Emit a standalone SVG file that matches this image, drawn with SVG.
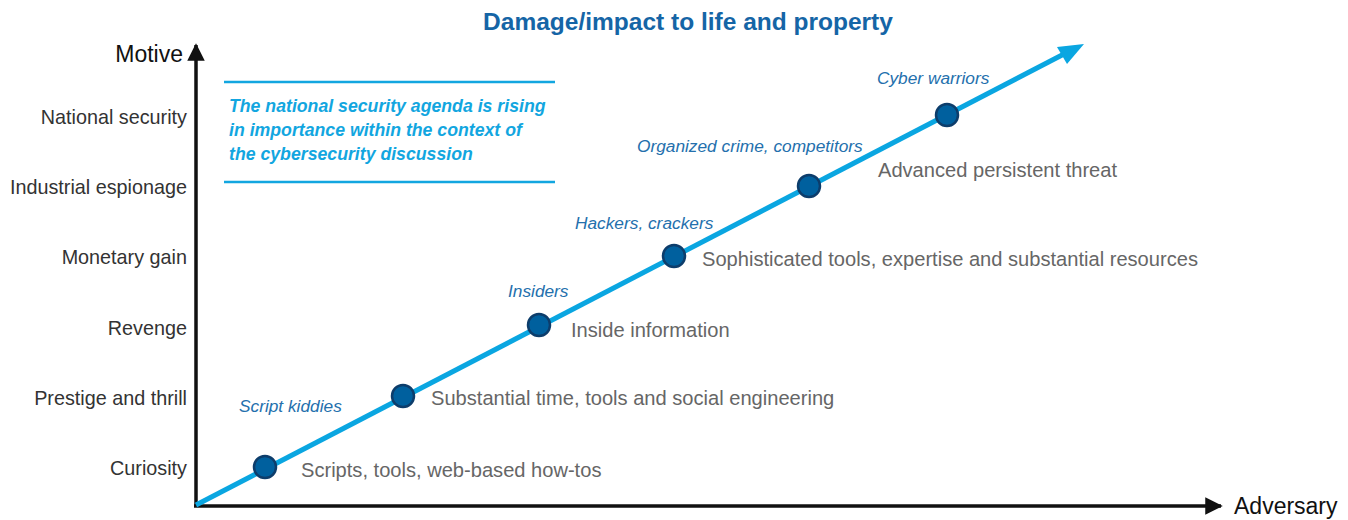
<svg xmlns="http://www.w3.org/2000/svg" width="1348" height="520" viewBox="0 0 1348 520">
<defs>
<style>
text{font-family:"Liberation Sans",Arial,sans-serif}
.title{font-size:24.5px;font-weight:bold;fill:#1565a6}
.axis{font-size:23px;fill:#111}
.ylab{font-size:19.8px;fill:#333;text-anchor:end}
.note{font-size:17.7px;font-weight:bold;font-style:italic;fill:#12a6e0}
.who{font-size:17.3px;font-style:italic;fill:#2470ad}
.what{font-size:20.1px;fill:#666}
.dot{fill:#00609e;stroke:#0d3d6b;stroke-width:2.5}
.rule{stroke:#12a6e0;stroke-width:2.5}
</style>
<marker id="blk" viewBox="0 0 10 10" refX="9" refY="5" markerWidth="5" markerHeight="5" orient="auto" markerUnits="strokeWidth"><path d="M0,0L10,5L0,10z" fill="#111"/></marker>
</defs>
<rect width="1348" height="520" fill="#fff"/>
<text class="title" x="688" y="30" text-anchor="middle">Damage/impact to life and property</text>
<g id="axes">
<line x1="196" y1="506" x2="196" y2="45" stroke="#111" stroke-width="3.5" marker-end="url(#blk)"/>
<line x1="194" y1="506" x2="1221" y2="506" stroke="#111" stroke-width="3.5" marker-end="url(#blk)"/>
<text class="axis" x="183" y="62" text-anchor="end">Motive</text>
<text class="axis" x="1234" y="514">Adversary</text>
</g>
<g id="motives">
<text class="ylab" x="187" y="124">National security</text>
<text class="ylab" x="187" y="194">Industrial espionage</text>
<text class="ylab" x="187" y="264">Monetary gain</text>
<text class="ylab" x="187" y="335">Revenge</text>
<text class="ylab" x="187" y="405">Prestige and thrill</text>
<text class="ylab" x="187" y="475">Curiosity</text>
</g>
<g id="note">
<line class="rule" x1="224" y1="82" x2="555" y2="82"/>
<line class="rule" x1="224" y1="182" x2="555" y2="182"/>
<text class="note" x="229" y="112">The national security agenda is rising</text>
<text class="note" x="229" y="136">in importance within the context of</text>
<text class="note" x="229" y="160">the cybersecurity discussion</text>
</g>
<g id="connectors">
<line x1="196" y1="505" x2="1064" y2="54" stroke="#0aa6e1" stroke-width="5"/>
<path d="M1084,44L1057,47L1067,64z" fill="#0aa6e1"/>
</g>
<g id="n1"><circle class="dot" cx="265" cy="467" r="11"/><text class="who" x="239" y="412">Script kiddies</text><text class="what" x="301" y="477">Scripts, tools, web-based how-tos</text></g>
<g id="n2"><circle class="dot" cx="403" cy="396" r="11"/><text class="what" x="431" y="405">Substantial time, tools and social engineering</text></g>
<g id="n3"><circle class="dot" cx="539" cy="325" r="11"/><text class="who" x="508" y="297">Insiders</text><text class="what" x="571" y="337">Inside information</text></g>
<g id="n4"><circle class="dot" cx="674" cy="256" r="11"/><text class="who" x="575" y="229">Hackers, crackers</text><text class="what" x="702" y="266">Sophisticated tools, expertise and substantial resources</text></g>
<g id="n5"><circle class="dot" cx="809" cy="186" r="11"/><text class="who" x="637" y="152">Organized crime, competitors</text><text class="what" x="878" y="177">Advanced persistent threat</text></g>
<g id="n6"><circle class="dot" cx="947" cy="115" r="11"/><text class="who" x="877" y="84">Cyber warriors</text></g>
</svg>
